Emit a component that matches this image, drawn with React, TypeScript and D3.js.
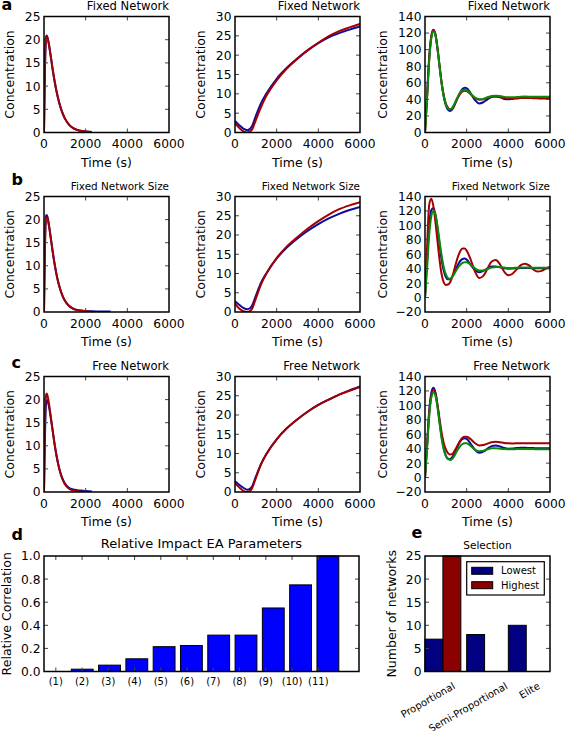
import React from 'react';
import * as d3 from 'd3';

const FONT = '"DejaVu Sans", "Liberation Sans", sans-serif';
const BLUE = '#0c0c9c';
const RED = '#a50000';
const GREEN = '#0a8a0a';

// ---------- Column 1 (decay) ----------
const tDecay = [0, 20, 40, 60, 80, 100, 130, 160, 200, 250, 300, 400, 500, 600, 700, 800, 900, 1000, 1200, 1400, 1600, 1800, 2000, 2300, 2600, 2900, 3200];
const a1Blue = [0, 6.5, 12.5, 17, 19.5, 20.6, 20.9, 20.6, 19.9, 18.6, 17.1, 14.0, 11.2, 8.8, 6.9, 5.3, 4.0, 3.0, 1.7, 0.95, 0.55, 0.32, 0.2, 0.12];
const a1Red = [0, 6, 12, 16.5, 19, 20.2, 20.6, 20.4, 19.8, 18.6, 17.2, 14.2, 11.4, 9.0, 7.0, 5.4, 4.1, 3.1, 1.7, 0.95, 0.55, 0.32, 0.2, 0.12];
const b1Blue = [0, 6.8, 13, 17.5, 19.8, 20.8, 21.0, 20.7, 19.9, 18.5, 16.9, 13.6, 10.6, 8.1, 6.1, 4.6, 3.4, 2.5, 1.35, 0.75, 0.45, 0.3, 0.22, 0.15, 0.12, 0.1, 0.1];
const b1Red = [0, 6.3, 12.3, 16.8, 19.3, 20.3, 20.5, 20.3, 19.6, 18.3, 16.8, 13.6, 10.7, 8.2, 6.2, 4.6, 3.4, 2.5, 1.3, 0.7, 0.4, 0.25, 0.15, 0.1];
const c1Blue = [0, 5, 10, 14.5, 17.5, 19.2, 20, 19.8, 19.3, 18.2, 16.8, 13.7, 10.6, 7.9, 5.7, 4.0, 2.8, 1.9, 0.9, 0.55, 0.4, 0.3, 0.2, 0.1];
const c1Red = [0, 7, 13.5, 18, 20.3, 21.0, 21.3, 21.0, 20.2, 18.8, 17.2, 13.9, 10.7, 7.9, 5.6, 3.9, 2.6, 1.7, 0.7, 0.3, 0.15, 0.08, 0.05];

// ---------- Column 2 (growth) ----------
const tGrowth = [0, 200, 400, 600, 800, 1000, 1250, 1500, 2000, 2500, 3000, 3500, 4000, 4500, 5000, 5500, 6000];
const a2Blue = [3.0, 1.9, 1.0, 0.6, 1.5, 4.3, 7.6, 10.0, 13.9, 16.8, 19.2, 21.3, 23.1, 24.6, 25.7, 26.6, 27.4];
const a2Red = [2.5, 1.2, 0.3, 0.0, 0.6, 3.2, 6.6, 9.4, 13.5, 16.6, 19.1, 21.3, 23.2, 24.9, 26.2, 27.2, 28.1];
const b2Blue = [2.8, 1.9, 1.1, 0.7, 1.5, 4.2, 7.6, 10.0, 13.9, 16.8, 19.1, 21.1, 22.8, 24.3, 25.5, 26.5, 27.3];
const b2Red = [2.2, 0.9, 0.2, 0.0, 0.7, 3.5, 7.2, 9.9, 14.0, 17.1, 19.5, 21.7, 23.6, 25.3, 26.7, 27.7, 28.5];
const c2Blue = [2.8, 1.9, 1.1, 0.6, 1.3, 4.0, 7.3, 9.8, 13.7, 16.6, 18.9, 20.9, 22.6, 24.0, 25.3, 26.4, 27.4];
const c2Red = [2.3, 1.2, 0.3, 0.0, 0.8, 3.6, 7.2, 9.8, 13.7, 16.6, 18.9, 20.9, 22.6, 24.0, 25.3, 26.3, 27.3];

// ---------- Column 3 (oscillation) ----------
const tOsc = [0, 100, 200, 300, 400, 500, 600, 700, 800, 900, 1000, 1100, 1200, 1300, 1400, 1500, 1600, 1700, 1800, 1900, 2000,
  2200, 2400, 2600, 2800, 3000, 3200, 3400, 3600, 3800, 4000, 4200, 4400, 4600, 4800, 5000, 5200, 5400, 5600, 5800, 6000];
const a3Blue = [0, 45, 90, 116, 124, 119, 102, 80, 59, 43, 33, 27.5, 26, 27.5, 32, 38, 44, 49, 52.5, 54, 53.5,
  47, 39, 35, 36.5, 40, 43, 44, 43, 40.5, 40, 40.5, 41.2, 41.8, 42, 41.8, 41.4, 41.2, 41, 41, 41];
const a3Red = [0, 43, 88, 115, 123, 118, 101, 80, 60, 45, 35, 30, 28, 29, 33, 38, 43, 47, 49.5, 50.5, 50,
  46, 41.5, 39.5, 40, 41.5, 43, 43.2, 42.5, 41.8, 41.3, 41.2, 41.3, 41.5, 41.6, 41.6, 41.5, 41.5, 41.5, 41.5, 41.5];
const a3Green = [0, 41, 86, 113, 122, 117.5, 100.5, 79.5, 59, 44, 34, 29, 28, 29.5, 34, 39.5, 44.5, 48.5, 51, 51.5, 51,
  46.5, 42, 40, 40.5, 42.5, 44, 44.5, 44, 43, 42.5, 42.5, 42.8, 43.2, 43.3, 43.2, 43, 43, 43, 43, 43];
const b3Blue = [0, 50, 98, 121, 124, 115, 96, 73, 52, 37, 28.5, 25.5, 25.5, 28.5, 34, 40.5, 46.5, 51, 53.5, 54, 52.5,
  45, 38, 35, 37, 40.5, 43, 43.2, 42, 40.5, 40, 40.2, 40.6, 41, 41, 40.8, 40.6, 40.5, 40.5, 40.5, 40.5];
const b3Red = [0, 70, 128, 137, 127, 105, 78, 52, 32, 21, 17.5, 18, 21, 28, 38, 49, 58, 65, 68, 68, 65,
  52, 36, 27, 30, 40, 50, 52, 46, 36, 31, 33, 39, 45, 47, 44.5, 39, 36, 37, 40, 43];
const b3Green = [0, 40, 86, 112, 120, 115, 99, 78, 58, 42, 32, 27, 26, 28, 32.5, 37.5, 42, 45.5, 48, 49, 49,
  45.5, 40.5, 37.5, 37.5, 39.5, 41.5, 42.5, 42.3, 41.5, 41, 41, 41.2, 41.5, 41.6, 41.5, 41.4, 41.4, 41.4, 41.4, 41.4];
const c3Blue = [0, 46, 92, 117, 124.5, 118, 100, 77, 56, 40, 30.5, 26, 25.5, 28, 33, 39.5, 45.5, 50.5, 53.5, 54.5, 53.5,
  46.5, 38.5, 34.5, 36, 40, 43.5, 44.5, 43, 41, 40, 40.2, 40.8, 41.2, 41.2, 41, 40.8, 40.6, 40.5, 40.5, 40.5];
const c3Red = [0, 44, 88, 113, 121, 117, 101, 81, 62, 48, 39, 34, 32, 32.5, 36, 41, 46.5, 51.5, 55, 56.5, 56.5,
  53, 47.5, 44.5, 45, 47, 49, 49.5, 49, 48, 47.5, 47.3, 47.4, 47.6, 47.7, 47.7, 47.6, 47.5, 47.5, 47.5, 47.5];
const c3Green = [0, 40, 84, 110, 118, 113.5, 97, 75, 54, 39, 30, 26, 24.5, 25.5, 29.5, 35, 40, 44, 46.5, 47.5, 47.5,
  43.5, 38.5, 36.5, 37, 39, 40.5, 40.5, 40, 39.5, 39.2, 39.2, 39.4, 39.5, 39.5, 39.5, 39.4, 39.3, 39.3, 39.3, 39.3];

const timeTicks = [0, 2000, 4000, 6000];
const decayTicks = [0, 5, 10, 15, 20, 25];
const growthTicks = [0, 5, 10, 15, 20, 25, 30];
const oscTicksA = [0, 20, 40, 60, 80, 100, 120, 140];
const oscTicksBC = [-20, 0, 20, 40, 60, 80, 100, 120, 140];
const rowTitles = ['Fixed Network', 'Fixed Network Size', 'Free Network'];
const rowLetters = ['a', 'b', 'c'];

// ---------- Panel d ----------
const paramLabels = ['(1)', '(2)', '(3)', '(4)', '(5)', '(6)', '(7)', '(8)', '(9)', '(10)', '(11)'];
const paramImpact = [0, 0.02, 0.055, 0.11, 0.215, 0.225, 0.315, 0.315, 0.55, 0.75, 1.0];
const corrTicks = [0, 0.2, 0.4, 0.6, 0.8, 1.0];

// ---------- Panel e ----------
const selCategories = ['Proportional', 'Semi-Proportional', 'Elite'];
const selLowest = [7, 8, 10];
const selHighest = [25, 0, 0];
const selTicks = [0, 5, 10, 15, 20, 25];
const selLabelPos = [0.74, 2.0, 2.78];

// ---------- layout ----------
const COLS = [{ x0: 44, x1: 169 }, { x0: 235, x1: 360 }, { x0: 425, x1: 550 }];
const ROWS = [{ y0: 16.5, y1: 132.5 }, { y0: 196.5, y1: 312 }, { y0: 376.5, y1: 492 }];
const TITLE_SIZES = [11.6, 10.4, 11.6];
const LETTER_POS = [{ x: 1.5, y: 9.5 }, { x: 11.5, y: 185 }, { x: 11.5, y: 368 }];
const YLAB_OFF = [-30, -30, -38];
const FS = 12.3;
const TICK = 4;
const TICK_COLOR = '#444';

const fmtNum = (v: number) => (v < 0 ? '\u2212' + Math.abs(v) : String(v));

function zip(t: number[], v: number[]): [number, number][] {
  return v.map((val, i) => [t[i], val]);
}

type Series = { t: number[]; v: number[]; color: string };

function Frame({ x0, x1, y0, y1 }: any) {
  return <rect x={x0} y={y0} width={x1 - x0} height={y1 - y0} fill="none" stroke="#000" strokeWidth={1.5} />;
}

function LinePanel({ id, col, row, yDomain, yTicks, series, title, titleSize, ylabOff }: any) {
  const { x0, x1 } = col;
  const { y0, y1 } = row;
  const x = d3.scaleLinear().domain([0, 6000]).range([x0, x1]);
  const y = d3.scaleLinear().domain(yDomain).range([y1, y0]);
  const line = d3.line<[number, number]>().x(d => x(d[0])).y(d => y(d[1])).curve(d3.curveMonotoneX);
  const innerX = timeTicks.filter(t => t > 0 && t < 6000);
  const innerY = (yTicks as number[]).filter(v => v > yDomain[0] && v < yDomain[1]);
  return (
    <g>
      <defs>
        <clipPath id={id}>
          <rect x={x0} y={y0} width={x1 - x0} height={y1 - y0} />
        </clipPath>
      </defs>
      <g clipPath={`url(#${id})`}>
        {(series as Series[]).map((s, i) => (
          <path key={i} d={line(zip(s.t, s.v)) || ''} fill="none" stroke={s.color} strokeWidth={2} strokeLinejoin="round" />
        ))}
      </g>
      {innerX.map(t => (
        <g key={'xt' + t}>
          <line x1={x(t)} x2={x(t)} y1={y1} y2={y1 - TICK} stroke={TICK_COLOR} />
          <line x1={x(t)} x2={x(t)} y1={y0} y2={y0 + TICK} stroke={TICK_COLOR} />
        </g>
      ))}
      {innerY.map(v => (
        <g key={'yt' + v}>
          <line x1={x0} x2={x0 + TICK} y1={y(v)} y2={y(v)} stroke={TICK_COLOR} />
          <line x1={x1} x2={x1 - TICK} y1={y(v)} y2={y(v)} stroke={TICK_COLOR} />
        </g>
      ))}
      <Frame x0={x0} x1={x1} y0={y0} y1={y1} />
      {timeTicks.map(t => (
        <text key={'xl' + t} x={x(t)} y={y1 + 15.5} fontSize={FS} textAnchor="middle">{t}</text>
      ))}
      {(yTicks as number[]).map(v => (
        <text key={'yl' + v} x={x0 - 3.5} y={y(v)} dy="0.36em" fontSize={FS} textAnchor="end">{fmtNum(v)}</text>
      ))}
      <text x={(x0 + x1) / 2} y={y1 + 34} fontSize={12.5} textAnchor="middle">Time (s)</text>
      <text transform={`translate(${x0 + ylabOff},${(y0 + y1) / 2}) rotate(-90)`} fontSize={12.5} textAnchor="middle">Concentration</text>
      <text x={x1} y={y0 - 6.5} fontSize={titleSize} textAnchor="end">{title}</text>
    </g>
  );
}

function PanelD() {
  const x0 = 44, x1 = 359, y0 = 556, y1 = 671.5;
  const xBar = d3.scaleLinear().domain([0, 11.54]).range([x0, x1]);
  const xTick = d3.scaleLinear().domain([0, 12]).range([x0, x1]);
  const y = d3.scaleLinear().domain([0, 1]).range([y1, y0]);
  return (
    <g>
      {paramImpact.map((v, i) => (
        <rect key={i} x={xBar(i)} y={y(v)} width={xBar(i + 0.8) - xBar(i)} height={y(0) - y(v)}
          fill="#0000ff" stroke="#000" strokeWidth={1} />
      ))}
      {paramLabels.map((l, i) => (
        <g key={l}>
          <line x1={xTick(i + 0.45)} x2={xTick(i + 0.45)} y1={y0} y2={y0 + TICK} stroke={TICK_COLOR} />
          <line x1={xTick(i + 0.45)} x2={xTick(i + 0.45)} y1={y1} y2={y1 - TICK} stroke={TICK_COLOR} />
          <text x={xTick(i + 0.45)} y={y1 + 13.5} fontSize={10} textAnchor="middle">{l}</text>
        </g>
      ))}
      {corrTicks.map(v => (
        <g key={v}>
          {v > 0 && v < 1 && (
            <>
              <line x1={x0} x2={x0 + TICK} y1={y(v)} y2={y(v)} stroke={TICK_COLOR} />
              <line x1={x1} x2={x1 - TICK} y1={y(v)} y2={y(v)} stroke={TICK_COLOR} />
            </>
          )}
          <text x={x0 - 3.5} y={y(v)} dy="0.36em" fontSize={FS} textAnchor="end">{d3.format('.1f')(v)}</text>
        </g>
      ))}
      <Frame x0={x0} x1={x1} y0={y0} y1={y1} />
      <text x={(x0 + x1) / 2} y={548} fontSize={13} textAnchor="middle">Relative Impact EA Parameters</text>
      <text transform={`translate(${x0 - 33.5},${(y0 + y1) / 2}) rotate(-90)`} fontSize={12.5} textAnchor="middle">Relative Correlation</text>
      <text x={11.5} y={540} fontSize={16} fontWeight="bold">d</text>
    </g>
  );
}

function PanelE() {
  const x0 = 425, x1 = 550, y0 = 556, y1 = 671.5;
  const x = d3.scaleLinear().domain([0, 3]).range([x0, x1]);
  const y = d3.scaleLinear().domain([0, 25]).range([y1, y0]);
  const w = 0.43;
  const NAVY = '#000080';
  const DRED = '#8b0000';
  return (
    <g>
      {selLowest.map((v, i) => (
        <rect key={'l' + i} x={x(i)} y={y(v)} width={x(w) - x(0)} height={y(0) - y(v)} fill={NAVY} stroke="#000" strokeWidth={1} />
      ))}
      {selHighest.map((v, i) => v > 0 && (
        <rect key={'h' + i} x={x(i + w)} y={y(v)} width={x(w) - x(0)} height={y(0) - y(v)} fill={DRED} stroke="#000" strokeWidth={1} />
      ))}
      {selTicks.map(v => (
        <g key={v}>
          {v > 0 && v < 25 && (
            <>
              <line x1={x0} x2={x0 + TICK} y1={y(v)} y2={y(v)} stroke={TICK_COLOR} />
              <line x1={x1} x2={x1 - TICK} y1={y(v)} y2={y(v)} stroke={TICK_COLOR} />
            </>
          )}
          <text x={x0 - 3.5} y={y(v)} dy="0.36em" fontSize={FS} textAnchor="end">{v}</text>
        </g>
      ))}
      <Frame x0={x0} x1={x1} y0={y0} y1={y1} />
      {selCategories.map((c, i) => (
        <text key={c} transform={`translate(${x(selLabelPos[i])},${y1 + 16.5}) rotate(-30)`} fontSize={10} textAnchor="end">{c}</text>
      ))}
      <g>
        <rect x={x1 - 83.3} y={y0 + 5.7} width={77.6} height={33.3} fill="#fff" stroke="#000" strokeWidth={1.2} />
        <rect x={x1 - 78.3} y={y0 + 11.3} width={21} height={7} fill={NAVY} stroke="#000" strokeWidth={1} />
        <rect x={x1 - 78.3} y={y0 + 25.7} width={21} height={7} fill={DRED} stroke="#000" strokeWidth={1} />
        <text x={x1 - 49} y={y0 + 18.3} fontSize={10}>Lowest</text>
        <text x={x1 - 49} y={y0 + 32.5} fontSize={10}>Highest</text>
      </g>
      <text x={(x0 + x1) / 2} y={549} fontSize={10.5} textAnchor="middle">Selection</text>
      <text transform={`translate(${x0 - 29},${(y0 + y1) / 2}) rotate(-90)`} fontSize={12.5} textAnchor="middle">Number of networks</text>
      <text x={411.5} y={538} fontSize={16} fontWeight="bold">e</text>
    </g>
  );
}

export default function App() {
  const col1 = [
    [{ t: tDecay, v: a1Blue, color: BLUE }, { t: tDecay, v: a1Red, color: RED }],
    [{ t: tDecay, v: b1Blue, color: BLUE }, { t: tDecay, v: b1Red, color: RED }],
    [{ t: tDecay, v: c1Blue, color: BLUE }, { t: tDecay, v: c1Red, color: RED }],
  ];
  const col2 = [
    [{ t: tGrowth, v: a2Blue, color: BLUE }, { t: tGrowth, v: a2Red, color: RED }],
    [{ t: tGrowth, v: b2Blue, color: BLUE }, { t: tGrowth, v: b2Red, color: RED }],
    [{ t: tGrowth, v: c2Blue, color: BLUE }, { t: tGrowth, v: c2Red, color: RED }],
  ];
  const col3 = [
    [{ t: tOsc, v: a3Blue, color: BLUE }, { t: tOsc, v: a3Red, color: RED }, { t: tOsc, v: a3Green, color: GREEN }],
    [{ t: tOsc, v: b3Blue, color: BLUE }, { t: tOsc, v: b3Red, color: RED }, { t: tOsc, v: b3Green, color: GREEN }],
    [{ t: tOsc, v: c3Blue, color: BLUE }, { t: tOsc, v: c3Red, color: RED }, { t: tOsc, v: c3Green, color: GREEN }],
  ];
  return (
    <svg width={567} height={731} style={{ position: 'absolute', left: 0, top: 0, background: '#fff' }}
      fontFamily={FONT} fill="#000">
      {ROWS.map((row, r) => (
        <g key={r}>
          <LinePanel id={`c1r${r}`} col={COLS[0]} row={row} yDomain={[0, 25]} yTicks={decayTicks} series={col1[r]}
            title={rowTitles[r]} titleSize={TITLE_SIZES[r]} ylabOff={YLAB_OFF[0]} />
          <LinePanel id={`c2r${r}`} col={COLS[1]} row={row} yDomain={[0, 30]} yTicks={growthTicks} series={col2[r]}
            title={rowTitles[r]} titleSize={TITLE_SIZES[r]} ylabOff={YLAB_OFF[1]} />
          <LinePanel id={`c3r${r}`} col={COLS[2]} row={row} yDomain={r === 0 ? [0, 140] : [-20, 140]}
            yTicks={r === 0 ? oscTicksA : oscTicksBC} series={col3[r]}
            title={rowTitles[r]} titleSize={TITLE_SIZES[r]} ylabOff={YLAB_OFF[2]} />
          <text x={LETTER_POS[r].x} y={LETTER_POS[r].y} fontSize={16} fontWeight="bold">{rowLetters[r]}</text>
        </g>
      ))}
      <PanelD />
      <PanelE />
    </svg>
  );
}
